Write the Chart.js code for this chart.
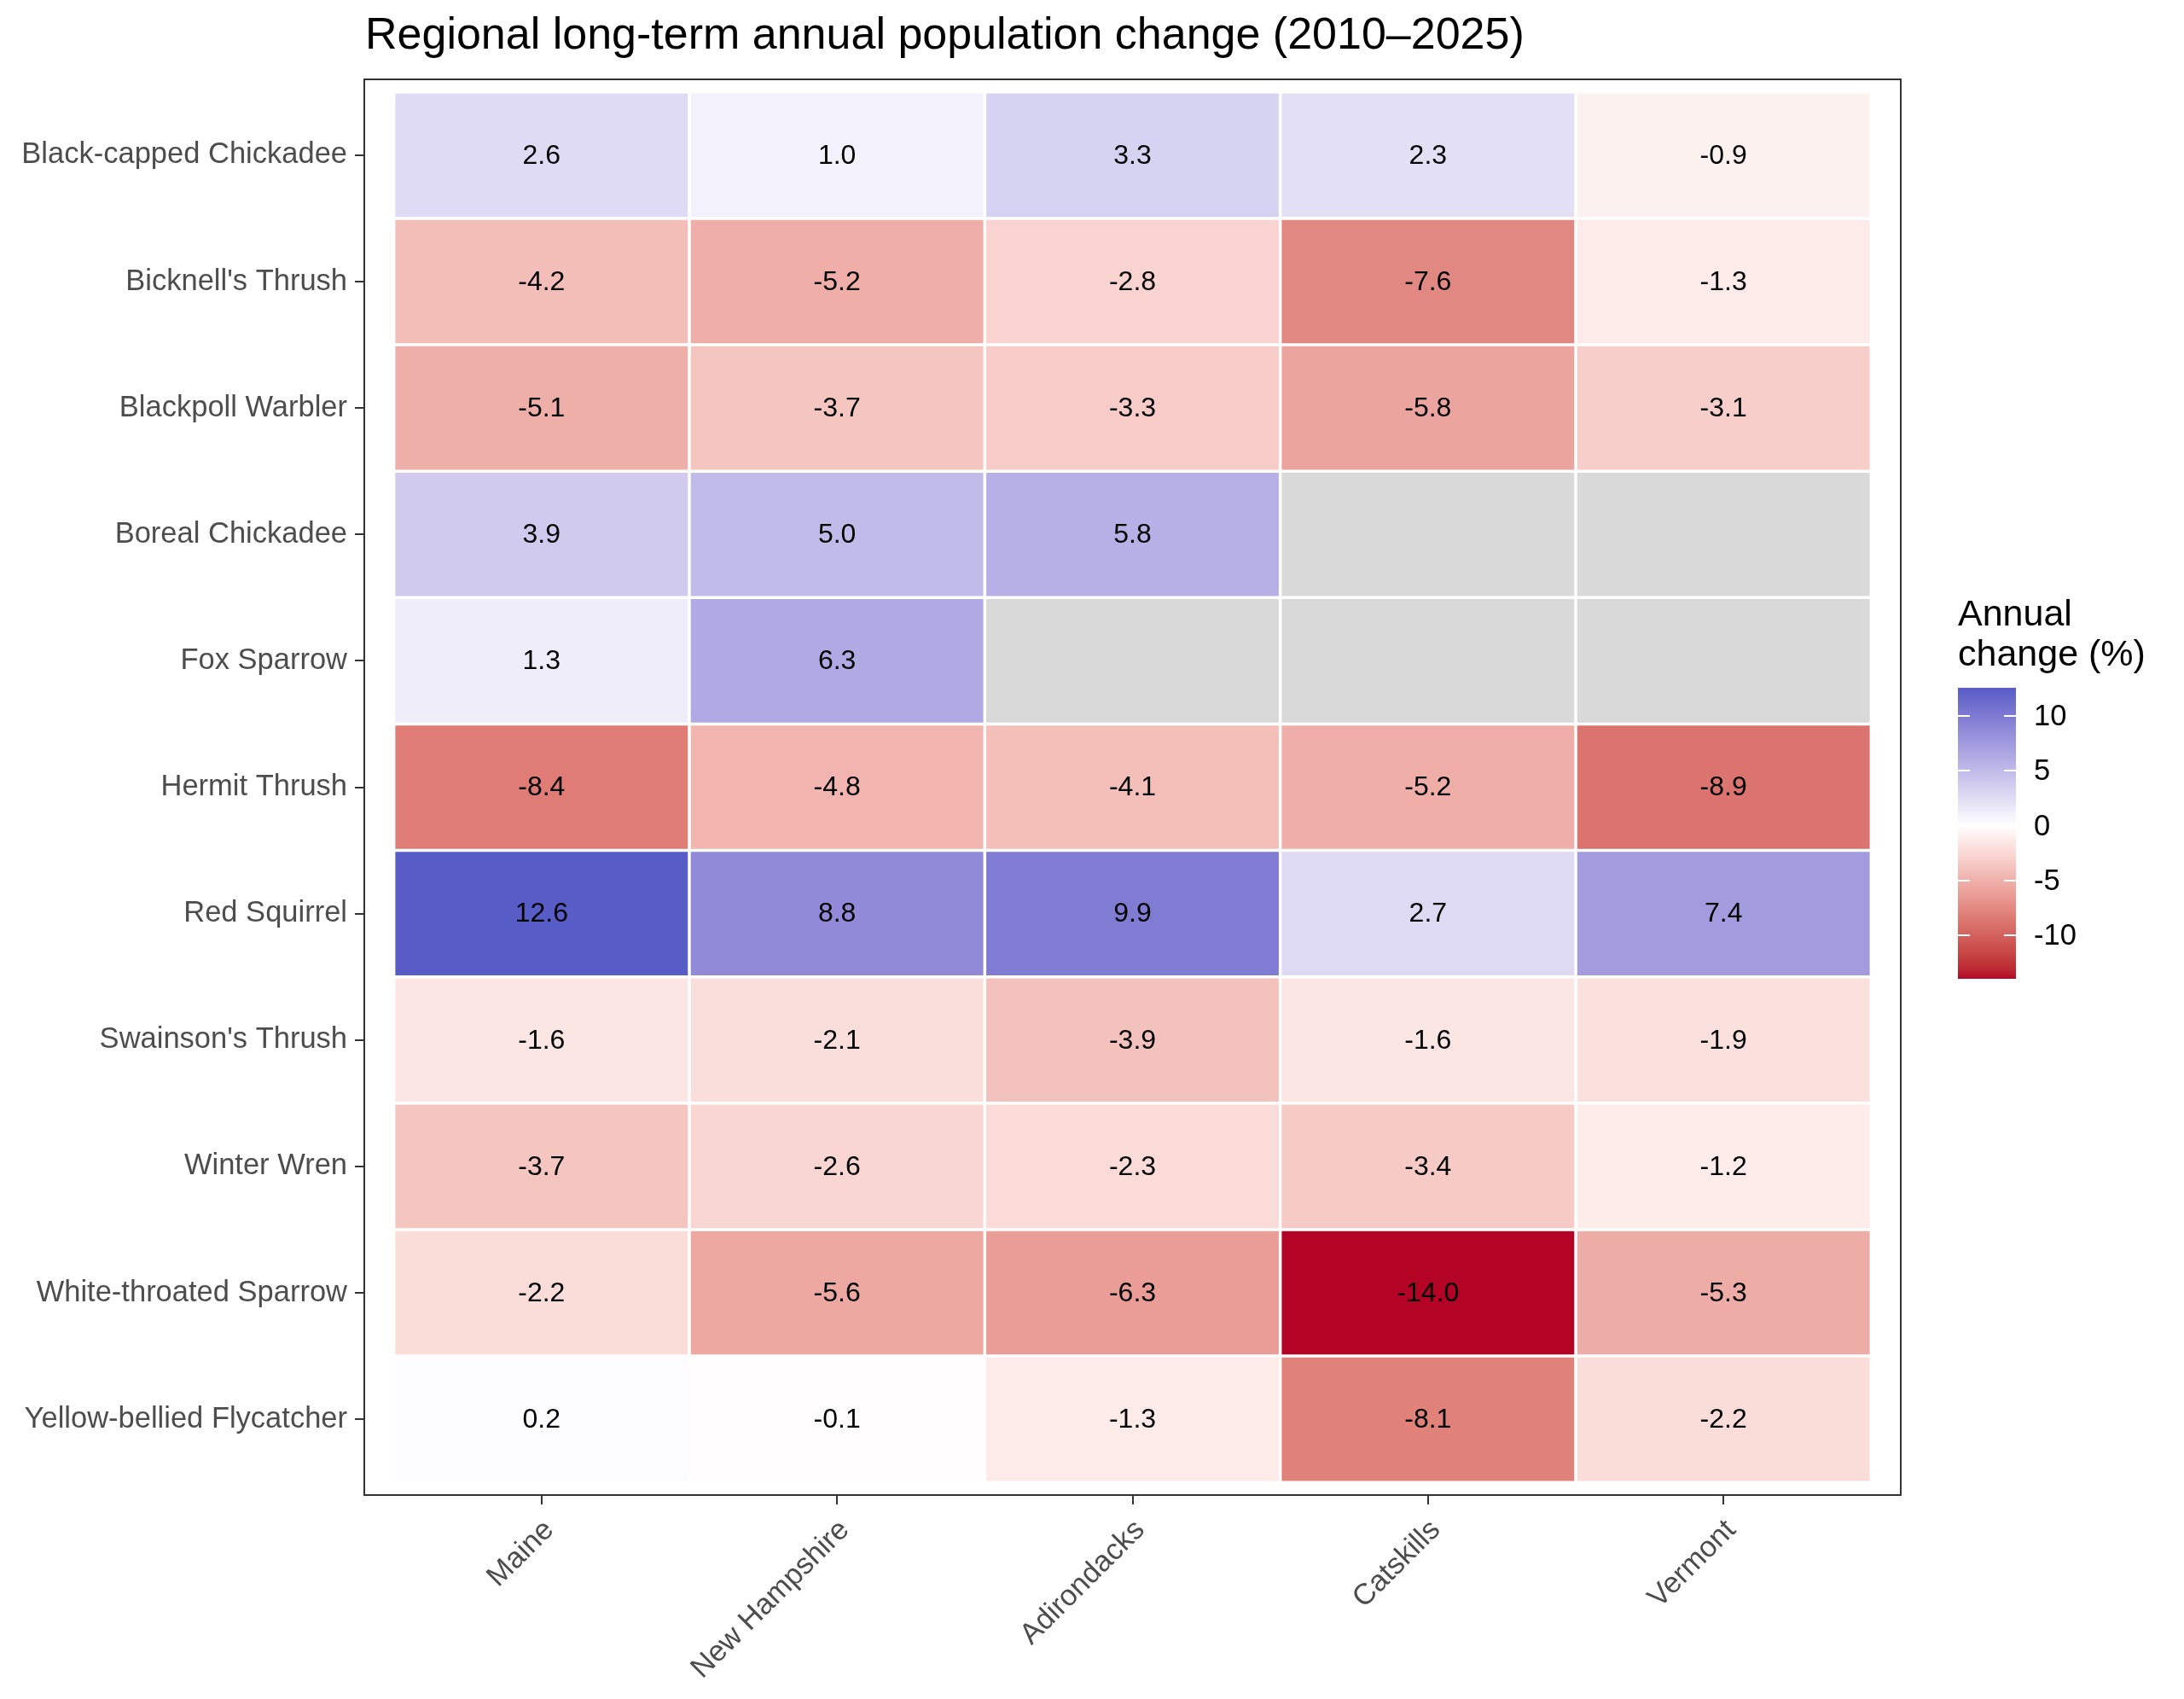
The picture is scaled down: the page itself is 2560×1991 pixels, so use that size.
<!DOCTYPE html>
<html>
<head>
<meta charset="utf-8">
<script src="https://cdn.jsdelivr.net/npm/chart.js@4.4.1/dist/chart.umd.min.js"></script>
<style>
  html, body { margin: 0; padding: 0; background: #ffffff; }
  #wrap { width: 2560px; height: 1991px; position: relative; }
  canvas { display: block; }
</style>
</head>
<body>
<div id="wrap"><canvas id="chart" width="2560" height="1991" style="width:2560px;height:1991px"></canvas></div>
<script>
// ---- Data ----
const regions = ["Maine", "New Hampshire", "Adirondacks", "Catskills", "Vermont"];
const species = [
  "Black-capped Chickadee", "Bicknell's Thrush", "Blackpoll Warbler", "Boreal Chickadee",
  "Fox Sparrow", "Hermit Thrush", "Red Squirrel", "Swainson's Thrush", "Winter Wren",
  "White-throated Sparrow", "Yellow-bellied Flycatcher"
];
// annual change (%) per region, in species order (null = no data)
const maine        = [2.6, -4.2, -5.1, 3.9, 1.3, -8.4, 12.6, -1.6, -3.7, -2.2, 0.2];
const newHampshire = [1.0, -5.2, -3.7, 5.0, 6.3, -4.8, 8.8, -2.1, -2.6, -5.6, -0.1];
const adirondacks  = [3.3, -2.8, -3.3, 5.8, null, -4.1, 9.9, -3.9, -2.3, -6.3, -1.3];
const catskills    = [2.3, -7.6, -5.8, null, null, -5.2, 2.7, -1.6, -3.4, -14.0, -8.1];
const vermont      = [-0.9, -1.3, -3.1, null, null, -8.9, 7.4, -1.9, -1.2, -5.3, -2.2];
const legendTicks  = [-10, -5, 0, 5, 10];

const chartTitle = "Regional long-term annual population change (2010\u20132025)";
const legendTitle = ["Annual", "change (%)"];

// ---- Colour scale: diverging gradient (Lab interpolation), midpoint 0 ----
const LOW = [180, 4, 38], MID = [255, 255, 255], HIGH = [59, 76, 192], NA_COLOR = "#D9D9D9";
const allValues = [].concat(maine, newHampshire, adirondacks, catskills, vermont).filter(v => v !== null);
const vMin = Math.min(...allValues), vMax = Math.max(...allValues);
const absMax = Math.max(Math.abs(vMin), Math.abs(vMax));

function srgbToLin(c) { c /= 255; return c <= 0.04045 ? c / 12.92 : Math.pow((c + 0.055) / 1.055, 2.4); }
function linToSrgb(c) { c = c <= 0.0031308 ? 12.92 * c : 1.055 * Math.pow(c, 1 / 2.4) - 0.055; return Math.max(0, Math.min(255, Math.round(c * 255))); }
const WX = 0.95047, WY = 1.0, WZ = 1.08883;
function fLab(t) { return t > 216 / 24389 ? Math.cbrt(t) : (24389 / 27 * t + 16) / 116; }
function fInv(t) { return t * t * t > 216 / 24389 ? t * t * t : (116 * t - 16) / (24389 / 27); }
function rgbToLab(rgb) {
  const r = srgbToLin(rgb[0]), g = srgbToLin(rgb[1]), b = srgbToLin(rgb[2]);
  const X = (0.4124 * r + 0.3576 * g + 0.1805 * b) / WX;
  const Y = (0.2126 * r + 0.7152 * g + 0.0722 * b) / WY;
  const Z = (0.0193 * r + 0.1192 * g + 0.9505 * b) / WZ;
  const fx = fLab(X), fy = fLab(Y), fz = fLab(Z);
  return [116 * fy - 16, 500 * (fx - fy), 200 * (fy - fz)];
}
function labToRgb(lab) {
  const fy = (lab[0] + 16) / 116, fx = fy + lab[1] / 500, fz = fy - lab[2] / 200;
  const X = fInv(fx) * WX, Y = fInv(fy) * WY, Z = fInv(fz) * WZ;
  const r = 3.2406 * X - 1.5372 * Y - 0.4986 * Z;
  const g = -0.9689 * X + 1.8758 * Y + 0.0415 * Z;
  const b = 0.0557 * X - 0.2040 * Y + 1.0570 * Z;
  return [linToSrgb(r), linToSrgb(g), linToSrgb(b)];
}
const LAB_LOW = rgbToLab(LOW), LAB_MID = rgbToLab(MID), LAB_HIGH = rgbToLab(HIGH);
function colorFor(v) {
  if (v === null || v === undefined) return NA_COLOR;
  const t = Math.min(Math.abs(v) / absMax, 1);
  const end = v < 0 ? LAB_LOW : LAB_HIGH;
  const lab = [0, 1, 2].map(k => LAB_MID[k] + (end[k] - LAB_MID[k]) * t);
  const c = labToRgb(lab);
  return `rgb(${c[0]},${c[1]},${c[2]})`;
}

// ---- Layout constants ----
const FONT = "'Liberation Sans', Arial, Helvetica, sans-serif";
const PANEL = { left: 427, top: 93, right: 2228, bottom: 1752 };
const W = 2560, H = 1991;

const regionValues = [maine, newHampshire, adirondacks, catskills, vermont];
const datasets = regionValues.map((vals, r) => ({
  label: regions[r],
  data: vals.map((v, s) => ({ x: r, y: [s - 0.5, s + 0.5], v: v })),
  backgroundColor: ctx => colorFor(ctx.raw ? ctx.raw.v : null),
  borderColor: "#ffffff",
  borderWidth: 1.75,
  borderSkipped: false,
  inflateAmount: 0,
  grouped: false,
  barPercentage: 1,
  categoryPercentage: 1
}));

const decorPlugin = {
  id: "decor",
  afterDatasetsDraw(chart) {
    const ctx = chart.ctx, xs = chart.scales.x, ys = chart.scales.y;
    ctx.save();
    ctx.fillStyle = "#000000";
    ctx.font = `32px ${FONT}`;
    ctx.textAlign = "center";
    ctx.textBaseline = "middle";
    regionValues.forEach((vals, r) => {
      vals.forEach((v, s) => {
        if (v === null) return;
        ctx.fillText(v.toFixed(1), xs.getPixelForValue(r), ys.getPixelForValue(s) + 1);
      });
    });
    ctx.restore();
  },
  afterDraw(chart) {
    const ctx = chart.ctx, a = chart.chartArea;
    ctx.save();
    // panel border
    ctx.strokeStyle = "#333333";
    ctx.lineWidth = 2;
    ctx.strokeRect(a.left, a.top, a.right - a.left, a.bottom - a.top);
    // title
    ctx.fillStyle = "#000000";
    ctx.font = `52px ${FONT}`;
    ctx.textAlign = "left";
    ctx.textBaseline = "alphabetic";
    ctx.fillText(chartTitle, 428, 57);
    // legend title
    ctx.font = `43px ${FONT}`;
    ctx.fillText(legendTitle[0], 2295, 733);
    ctx.fillText(legendTitle[1], 2295, 780);
    // colour bar
    const bx = 2295, bw = 68, top = 806, bottom = 1147;
    const valToY = v => top + (vMax - v) / (vMax - vMin) * (bottom - top);
    for (let y = top; y < bottom; y++) {
      const v = vMax - (y + 0.5 - top) / (bottom - top) * (vMax - vMin);
      ctx.fillStyle = colorFor(v);
      ctx.fillRect(bx, y, bw, 1);
    }
    ctx.strokeStyle = "#ffffff";
    ctx.lineWidth = 2;
    ctx.font = `34.5px ${FONT}`;
    ctx.fillStyle = "#000000";
    ctx.textBaseline = "middle";
    legendTicks.forEach(t => {
      const y = Math.round(valToY(t));
      ctx.beginPath();
      ctx.moveTo(bx, y); ctx.lineTo(bx + 14, y);
      ctx.moveTo(bx + bw - 14, y); ctx.lineTo(bx + bw, y);
      ctx.stroke();
      ctx.fillText(String(t), 2384, y + 1);
    });
    ctx.restore();
  }
};

new Chart(document.getElementById("chart"), {
  type: "bar",
  data: { datasets: datasets },
  plugins: [decorPlugin],
  options: {
    responsive: false,
    animation: false,
    devicePixelRatio: 1,
    layout: { padding: { left: 0, top: PANEL.top, right: W - PANEL.right, bottom: 0 } },
    plugins: { legend: { display: false }, tooltip: { enabled: false }, title: { display: false } },
    scales: {
      x: {
        type: "linear",
        min: -0.6, max: 4.6,
        offset: false,
        afterBuildTicks: s => { s.ticks = regions.map((_, i) => ({ value: i })); },
        afterFit: s => { s.height = H - PANEL.bottom; },
        grid: { display: true, drawOnChartArea: false, drawTicks: true, tickLength: 11, color: "#333333", lineWidth: 2, offset: false },
        border: { display: false },
        ticks: {
          autoSkip: false, minRotation: 45, maxRotation: 45, padding: 10, labelOffset: 9,
          color: "#4D4D4D", font: { family: FONT, size: 34.5 },
          callback: v => regions[Math.round(v)]
        }
      },
      y: {
        type: "linear",
        min: -0.6, max: 10.6,
        reverse: true,
        afterBuildTicks: s => { s.ticks = species.map((_, i) => ({ value: i })); },
        afterFit: s => { s.width = PANEL.left; },
        grid: { display: true, drawOnChartArea: false, drawTicks: true, tickLength: 11, color: "#333333", lineWidth: 2 },
        border: { display: false },
        ticks: {
          autoSkip: false, padding: 9,
          color: "#4D4D4D", font: { family: FONT, size: 34.5 },
          callback: v => species[Math.round(v)]
        }
      }
    }
  }
});
</script>
</body>
</html>
